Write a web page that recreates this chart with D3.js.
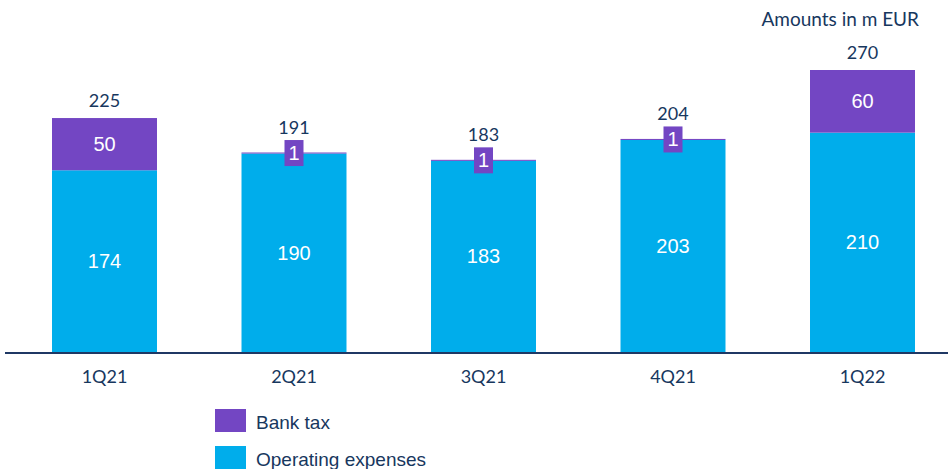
<!DOCTYPE html>
<html>
<head>
<meta charset="utf-8">
<script src="https://cdn.jsdelivr.net/npm/d3@7"></script>
<style>
  body { margin: 0; background: #fff; }
  svg { display: block; }
</style>
</head>
<body>
<script>
// chart values
var quarters = ["1Q21", "2Q21", "3Q21", "4Q21", "1Q22"];
var opex = [174, 190, 183, 203, 210];
var bankTax = [50, 1, 1, 1, 60];
var totals = [225, 191, 183, 204, 270];
var seriesNames = ["Bank tax", "Operating expenses"];

var w = 948;
var h = 469;
var navy = "#17375e";
var purple = "#7346c3";
var cyan = "#00adeb";

var svg = d3.select("body").append("svg")
  .attr("width", w)
  .attr("height", h);

var baseY = 352;

// x scale for bars (step ~189.5, bar ~105)
var xScale = d3.scaleBand()
  .domain(quarters)
  .range([9.75, 957.25])
  .paddingInner(0.446)
  .paddingOuter(0.223);

// y scale, 225 -> 235px
var yScale = d3.scaleLinear()
  .domain([0, 270])
  .range([baseY, baseY - 282]);

var rows = quarters.map(function(q, i) {
  return { q: q, opex: opex[i], tax: bankTax[i], total: totals[i] };
});

// operating expenses
svg.selectAll(".opex")
  .data(rows)
  .enter().append("rect")
  .attr("class", "opex")
  .attr("x", function(d) { return xScale(d.q); })
  .attr("width", xScale.bandwidth())
  .attr("y", function(d) { return yScale(d.opex); })
  .attr("height", function(d) { return baseY - yScale(d.opex); })
  .attr("fill", cyan);

// bank tax on top
svg.selectAll(".tax")
  .data(rows)
  .enter().append("rect")
  .attr("class", "tax")
  .attr("x", function(d) { return xScale(d.q); })
  .attr("width", xScale.bandwidth())
  .attr("y", function(d) { return yScale(d.opex + d.tax); })
  .attr("height", function(d) { return yScale(d.opex) - yScale(d.opex + d.tax); })
  .attr("fill", purple);

// opex labels
svg.selectAll(".opexLabel")
  .data(rows)
  .enter().append("text")
  .attr("x", function(d) { return xScale(d.q) + xScale.bandwidth() / 2; })
  .attr("y", function(d) { return (yScale(d.opex) + baseY) / 2 + 7; })
  .attr("text-anchor", "middle")
  .attr("fill", "#fff")
  .style("font-family", "Liberation Sans, Arial, sans-serif")
  .style("font-size", "20px")
  .text(function(d) { return d.opex; });

// bank tax labels: big ones inside, tiny ones in a purple box
rows.forEach(function(d) {
  var cx = xScale(d.q) + xScale.bandwidth() / 2;
  var top = yScale(d.opex + d.tax);
  var mid = (top + yScale(d.opex)) / 2;
  var labelTop = top;
  if (d.tax < 10) {
    svg.append("rect")
      .attr("x", cx - 9.5)
      .attr("y", mid - 13)
      .attr("width", 19)
      .attr("height", 26)
      .attr("fill", purple);
    labelTop = mid - 13;
  }
  svg.append("text")
    .attr("x", cx)
    .attr("y", mid + 7)
    .attr("text-anchor", "middle")
    .attr("fill", "#fff")
    .style("font-family", "Liberation Sans, Arial, sans-serif")
    .style("font-size", "20px")
    .text(d.tax);

  // total above
  svg.append("text")
    .attr("x", cx)
    .attr("y", labelTop - (d.tax < 10 ? 6 : 11))
    .attr("text-anchor", "middle")
    .attr("fill", navy)
    .style("font-family", "Lato, 'Open Sans', sans-serif")
    .style("font-size", "18px")
    .text(d.total);
});

// axis
var xAxis = svg.append("g")
  .attr("transform", "translate(0," + baseY + ")")
  .call(d3.axisBottom(xScale).tickSize(0).tickPadding(18));
xAxis.select(".domain").remove();
xAxis.selectAll("text")
  .attr("fill", navy)
  .style("font-family", "Lato, 'Open Sans', sans-serif")
  .style("font-size", "18px");

svg.append("line")
  .attr("x1", 5).attr("x2", w)
  .attr("y1", baseY + 1).attr("y2", baseY + 1)
  .attr("stroke", "#1f3864")
  .attr("stroke-width", 2);

// units note
svg.append("text")
  .attr("x", 919)
  .attr("y", 26)
  .attr("text-anchor", "end")
  .attr("fill", navy)
  .style("font-family", "Lato, 'Open Sans', sans-serif")
  .style("font-size", "19px")
  .text("Amounts in m EUR");

// legend
var legendColors = [purple, cyan];
var legend = svg.selectAll(".legenda")
  .data(seriesNames)
  .enter().append("g")
  .attr("class", "legenda")
  .attr("transform", function(d, i) { return "translate(215," + (409 + i * 37) + ")"; });

legend.append("rect")
  .attr("width", 31)
  .attr("height", 23)
  .attr("fill", function(d, i) { return legendColors[i]; });

legend.append("text")
  .attr("x", 41)
  .attr("y", 20)
  .attr("fill", navy)
  .style("font-family", "Liberation Sans, Arial, sans-serif")
  .style("font-size", "19px")
  .text(function(d) { return d; });
</script>
</body>
</html>
